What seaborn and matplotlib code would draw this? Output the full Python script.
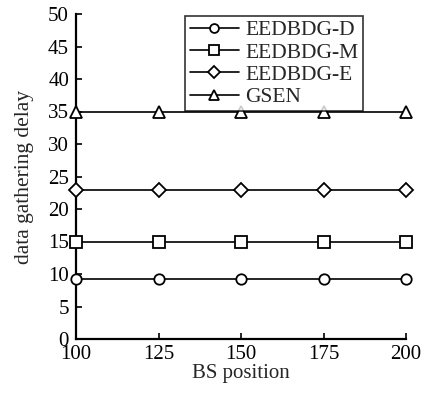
import matplotlib
matplotlib.use("Agg")
import matplotlib.pyplot as plt
import seaborn as sns
import pandas as pd

bs_position = [100, 125, 150, 175, 200]
eedbdg_d = [9.2, 9.2, 9.2, 9.2, 9.2]
eedbdg_m = [15, 15, 15, 15, 15]
eedbdg_e = [23, 23, 23, 23, 23]
gsen = [35, 35, 35, 35, 35]
series_names = ["EEDBDG-D", "EEDBDG-M", "EEDBDG-E", "GSEN"]

rows = []
for name, vals in zip(series_names, [eedbdg_d, eedbdg_m, eedbdg_e, gsen]):
    for x, v in zip(bs_position, vals):
        rows.append({"BS position": x, "delay": v, "series": name})
df = pd.DataFrame(rows)

sns.set_style("ticks")
plt.rcParams['font.family'] = ['Liberation Serif', 'DejaVu Serif']

fig = plt.figure(figsize=(4.26, 3.95), dpi=100)
ax = fig.add_axes([76/426, 1 - 339/395, 330/426, 325/395])

markers = {"EEDBDG-D": "o", "EEDBDG-M": "s", "EEDBDG-E": "D", "GSEN": "^"}
sizes = {"EEDBDG-D": 7.5, "EEDBDG-M": 8, "EEDBDG-E": 7.5, "GSEN": 9}
for name in series_names:
    sub = df[df["series"] == name]
    sns.lineplot(data=sub, x="BS position", y="delay", ax=ax, color="black",
                 marker=markers[name], markersize=sizes[name], markerfacecolor="white",
                 markeredgecolor="black", markeredgewidth=1.3, linewidth=1.2,
                 label=name, clip_on=False, zorder=3)

ax.set_xlim(100, 200)
ax.set_ylim(0, 50)
ax.set_xticks(bs_position)
ax.set_yticks(range(0, 51, 5))
ax.tick_params(direction="in", length=4, width=1.2, labelsize=15, colors="black")
ax.tick_params(axis="y", pad=5)
ax.tick_params(axis="x", pad=4)
for s in ["left", "bottom"]:
    ax.spines[s].set_linewidth(1.6)
    ax.spines[s].set_color("black")
sns.despine(ax=ax)
ax.set_xlabel("BS position", fontsize=15, labelpad=0)
ax.set_ylabel("data gathering delay", fontsize=15.5, labelpad=10)

leg = ax.legend(loc="upper right", bbox_to_anchor=(287/330, 1.0 - 2/325), fontsize=15.5,
                frameon=True, fancybox=False, handlelength=2.3, handletextpad=0.3,
                borderpad=0.2, labelspacing=0.1, borderaxespad=0, markerscale=0.85)
leg.get_frame().set_edgecolor("black")
leg.get_frame().set_linewidth(1.2)

fig.savefig("out.png", dpi=100)
